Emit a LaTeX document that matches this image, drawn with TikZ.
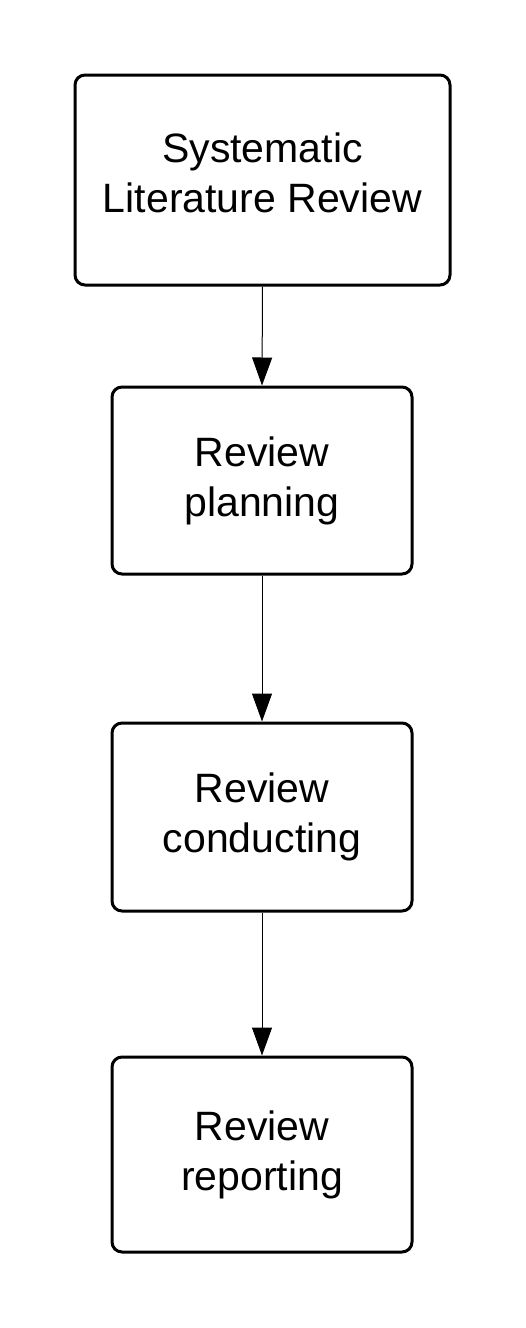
\documentclass[tikz,border=0pt]{standalone}
\usepackage{fontspec}
\setmainfont{Liberation Sans}
\usepackage{tikz}
\usetikzlibrary{arrows.meta}

\begin{document}
\begin{tikzpicture}[x=1pt,y=-1pt,>={Triangle[width=20pt,length=28pt]},
    stage/.style={draw,line width=3pt,rounded corners=10pt,align=center,
      inner sep=0pt,minimum width=300pt,font=\fontsize{41}{50}\selectfont}]
      \useasboundingbox (0,0) rectangle (525,1328);
      \node[stage,minimum width=375pt,minimum height=210pt] (slr) at (262.5,180)
        {Systematic\\Literature Review\\[-36pt]};
      \node[stage,minimum height=187pt] (plan) at (262,480.5) {Review\\planning};
      \node[stage,minimum height=188pt] (cond) at (262,817) {Review\\conducting};
      \node[stage,minimum height=195pt] (rep) at (262,1154.5) {Review\\reporting};
      \draw[->,line width=1pt] (slr.south) -- (plan.north);
      \draw[->,line width=1pt] (plan.south) -- (cond.north);
      \draw[->,line width=1pt] (cond.south) -- (rep.north);
    \end{tikzpicture}
\end{document}
